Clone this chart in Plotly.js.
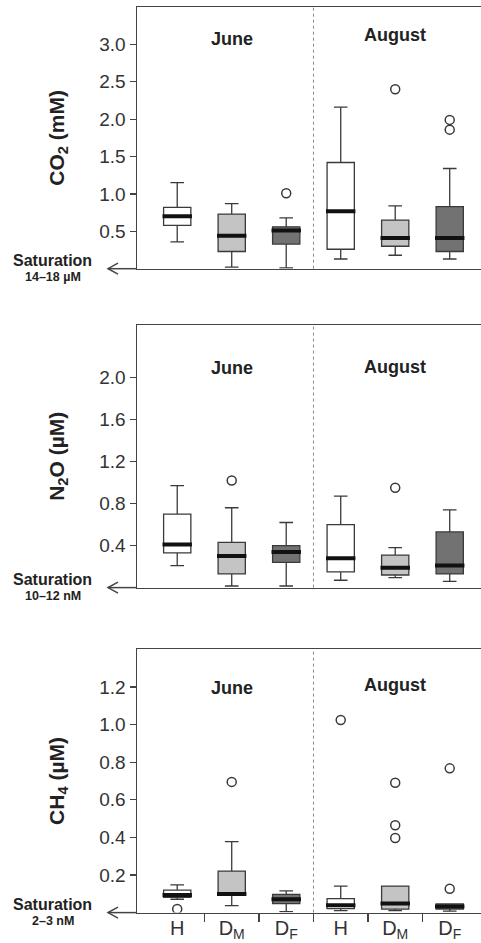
<!DOCTYPE html>
<html>
<head>
<meta charset="utf-8">
<script src="https://cdn.plot.ly/plotly-3.0.1.min.js"></script>
<style>html,body{margin:0;padding:0;background:#fff;}#chart{width:481px;height:943px;}</style>
</head>
<body>
<div id="chart"></div>
<script>
// ---------- DATA ----------
const categories = ['H', 'D<sub>M</sub>', 'D<sub>F</sub>', 'H', 'D<sub>M</sub>', 'D<sub>F</sub>'];
const months = ['June', 'August'];
const siteGroups = ['H', 'DM', 'DF'];

// CO2 (mM)
const co2Lower  = [0.36, 0.02, 0.01, 0.13, 0.18, 0.13];
const co2Q1     = [0.58, 0.23, 0.33, 0.26, 0.30, 0.23];
const co2Median = [0.70, 0.44, 0.51, 0.77, 0.41, 0.41];
const co2Q3     = [0.82, 0.73, 0.56, 1.42, 0.65, 0.83];
const co2Upper  = [1.15, 0.87, 0.68, 2.16, 0.84, 1.34];
const co2OutIdx = [2, 4, 5, 5];
const co2OutVal = [1.01, 2.40, 1.99, 1.86];
const co2Ticks  = [0.5, 1.0, 1.5, 2.0, 2.5, 3.0];

// N2O (uM)
const n2oLower  = [0.21, 0.015, 0.015, 0.07, 0.095, 0.06];
const n2oQ1     = [0.33, 0.13, 0.24, 0.15, 0.12, 0.13];
const n2oMedian = [0.41, 0.30, 0.34, 0.28, 0.19, 0.21];
const n2oQ3     = [0.70, 0.43, 0.40, 0.60, 0.31, 0.53];
const n2oUpper  = [0.97, 0.76, 0.62, 0.87, 0.38, 0.74];
const n2oOutIdx = [1, 4];
const n2oOutVal = [1.02, 0.95];
const n2oTicks  = [0.4, 0.8, 1.2, 1.6, 2.0];

// CH4 (uM)
const ch4Lower  = [0.071, 0.037, 0.005, 0.010, 0.010, 0.008];
const ch4Q1     = [0.081, 0.094, 0.048, 0.021, 0.019, 0.019];
const ch4Median = [0.094, 0.099, 0.071, 0.039, 0.049, 0.033];
const ch4Q3     = [0.120, 0.221, 0.097, 0.074, 0.141, 0.046];
const ch4Upper  = [0.147, 0.377, 0.115, 0.141, 0.141, 0.046];
const ch4OutIdx = [0, 1, 3, 4, 4, 4, 5, 5];
const ch4OutVal = [0.019, 0.695, 1.024, 0.69, 0.464, 0.397, 0.767, 0.127];
const ch4Ticks  = [0.2, 0.4, 0.6, 0.8, 1.0, 1.2];

const saturationLabels = ['14\u201318 \u00B5M', '10\u201312 nM', '2\u20133 nM'];
const yTitles = ['CO<sub>2</sub> (mM)', 'N<sub>2</sub>O (\u00B5M)', 'CH<sub>4</sub> (\u00B5M)'];

// ---------- STYLE ----------
const W = 481, H = 943;
const fills = {H: '#ffffff', DM: '#c4c4c4', DF: '#727272'};
const lineCol = '#3a3a3a';
const axisCol = '#444444';
const textCol = '#333333';
const FONT = '"Liberation Sans", Arial, sans-serif';
const plotLeftPx = 137;
const panelsPx = [[7, 268.7], [325, 587.6], [649.3, 912.6]];
const yRanges = [[0, 3.5], [0, 2.5], [0, 1.4]];
const xRange = [0.262, 6.574];
const monthY = [[0.878, 0.893], [0.836, 0.841], [0.854, 0.864]];
const arrowTipPx = 108, arrowHeadLen = 10, arrowHeadHalf = 5.5;

const gases = [
  {lo: co2Lower, q1: co2Q1, med: co2Median, q3: co2Q3, up: co2Upper, oi: co2OutIdx, ov: co2OutVal, ticks: co2Ticks},
  {lo: n2oLower, q1: n2oQ1, med: n2oMedian, q3: n2oQ3, up: n2oUpper, oi: n2oOutIdx, ov: n2oOutVal, ticks: n2oTicks},
  {lo: ch4Lower, q1: ch4Q1, med: ch4Median, q3: ch4Q3, up: ch4Upper, oi: ch4OutIdx, ov: ch4OutVal, ticks: ch4Ticks}
];

const pos = categories.map((c, i) => i + 1);
const traces = [];
const layout = {
  width: W, height: H,
  margin: {l: 0, r: 0, t: 0, b: 0},
  paper_bgcolor: '#fff', plot_bgcolor: '#fff',
  showlegend: false,
  font: {family: FONT, color: textCol},
  shapes: [], annotations: []
};

gases.forEach((g, p) => {
  const xa = p === 0 ? 'x' : 'x' + (p + 1);
  const ya = p === 0 ? 'y' : 'y' + (p + 1);
  const xk = p === 0 ? 'xaxis' : 'xaxis' + (p + 1);
  const yk = p === 0 ? 'yaxis' : 'yaxis' + (p + 1);
  // boxes, one trace per site group colour
  siteGroups.forEach((sg, k) => {
    const idx = pos.map((v, i) => i).filter(i => i % 3 === k);
    traces.push({
      type: 'box', xaxis: xa, yaxis: ya,
      x: idx.map(i => pos[i]),
      q1: idx.map(i => g.q1[i]), median: idx.map(i => g.med[i]), q3: idx.map(i => g.q3[i]),
      lowerfence: idx.map(i => g.lo[i]), upperfence: idx.map(i => g.up[i]),
      width: 0.5, whiskerwidth: 0.5, boxpoints: false,
      fillcolor: fills[sg], line: {color: lineCol, width: 1.3},
      hoverinfo: 'skip'
    });
  });
  // thick medians
  const mx = [], my = [];
  pos.forEach((v, i) => { mx.push(v - 0.27, v + 0.27, null); my.push(g.med[i], g.med[i], null); });
  traces.push({type: 'scatter', mode: 'lines', xaxis: xa, yaxis: ya, x: mx, y: my,
    line: {color: '#111', width: 4}, hoverinfo: 'skip'});
  // outliers
  traces.push({type: 'scatter', mode: 'markers', xaxis: p === 2 ? 'x4' : xa, yaxis: ya,
    x: g.oi.map(i => pos[i]), y: g.ov,
    marker: {symbol: 'circle-open', size: 9, color: lineCol, line: {width: 1.5, color: lineCol}},
    hoverinfo: 'skip'});

  const dom = [1 - panelsPx[p][1] / H, 1 - panelsPx[p][0] / H];
  layout[xk] = {
    domain: [plotLeftPx / W, 1], range: xRange, anchor: ya,
    showline: true, linecolor: axisCol, linewidth: 1.5, mirror: true,
    showgrid: false, zeroline: false, fixedrange: true,
    tickvals: p === 2 ? pos.slice(0, 5).map(v => v + 0.5) : [],
    ticks: p === 2 ? 'outside' : '', ticklen: 8, tickwidth: 1.3, tickcolor: axisCol,
    showticklabels: false
  };
  layout[yk] = {
    domain: dom, range: yRanges[p], anchor: xa,
    showline: true, linecolor: axisCol, linewidth: 1.5,
    showgrid: false, zeroline: false, fixedrange: true,
    tickvals: g.ticks, tickformat: '.1f',
    ticks: 'outside', ticklen: 6, tickwidth: 1.2, tickcolor: axisCol,
    tickfont: {family: FONT, size: 19, color: textCol},
    title: {text: '<b>' + yTitles[p] + '</b>', font: {family: FONT, size: 21, color: '#222'}, standoff: 29}
  };
  // divider between months
  layout.shapes.push({type: 'line', xref: xa, yref: ya + ' domain', x0: 3.5, x1: 3.5, y0: 0, y1: 1,
    line: {color: '#8a8a8a', width: 1, dash: '3px,3px'}});
  // month labels
  months.forEach((m, j) => {
    layout.annotations.push({xref: xa, yref: ya + ' domain', x: 2 + 3 * j, y: monthY[p][j],
      xanchor: 'center', yanchor: 'middle',
      text: '<b>' + m + '</b>', showarrow: false, font: {family: FONT, size: 18, color: '#222'}});
  });
  // saturation label + arrow
  const axisY = 1 - panelsPx[p][1] / H;
  layout.annotations.push({xref: 'paper', yref: 'paper', x: 52 / W, y: axisY + 8 / H,
    xanchor: 'center', yanchor: 'middle',
    text: '<b>Saturation</b>', showarrow: false, font: {family: FONT, size: 16, color: '#222'}});
  layout.annotations.push({xref: 'paper', yref: 'paper', x: 53 / W, y: axisY - 8 / H,
    xanchor: 'center', yanchor: 'middle',
    text: '<b>' + saturationLabels[p] + '</b>', showarrow: false, font: {family: FONT, size: 12.5, color: '#222'}});
  layout.shapes.push({type: 'line', xref: 'paper', yref: 'paper',
    x0: arrowTipPx / W, x1: plotLeftPx / W, y0: axisY, y1: axisY,
    line: {color: axisCol, width: 1.5}});
  layout.shapes.push({type: 'path', xref: 'paper', yref: 'paper',
    path: 'M' + ((arrowTipPx + arrowHeadLen) / W) + ',' + (axisY + arrowHeadHalf / H) +
          ' L' + (arrowTipPx / W) + ',' + axisY +
          ' L' + ((arrowTipPx + arrowHeadLen) / W) + ',' + (axisY - arrowHeadHalf / H),
    line: {color: axisCol, width: 1.5}});
});

// category labels on the bottom panel
layout.xaxis4 = {
  overlaying: 'x3', anchor: 'y3', side: 'bottom', range: xRange,
  showline: false, showgrid: false, zeroline: false, fixedrange: true,
  tickvals: pos, ticktext: categories, ticks: '', ticklabelstandoff: 1,
  tickfont: {family: FONT, size: 20, color: textCol}
};

Plotly.newPlot('chart', traces, layout, {staticPlot: true, displayModeBar: false});
</script>
</body>
</html>
